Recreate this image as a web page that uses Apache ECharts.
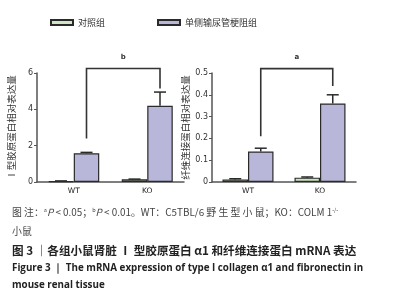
<!DOCTYPE html>
<html>
<head>
<meta charset="utf-8">
<script src="https://cdn.jsdelivr.net/npm/echarts@6/dist/echarts.min.js"></script>
<style>
html, body { margin: 0; padding: 0; background: #fff; }
#main { width: 403px; height: 300px; }
</style>
</head>
<body>
<div id="main"></div>
<script>
// 数据
var categories = ['WT', 'KO'];
var seriesNames = ['对照组', '单侧输尿管梗阻组'];

// Ⅰ型胶原蛋白 α1
var colControl = [0.05, 0.15];
var colControlErr = [0.01, 0.01];
var colUUO = [1.58, 4.2];
var colUUOErr = [0.05, 0.75];
var colTicks = [0, 2, 4, 6];
var colBracketTop = 6.25;
var colBracketEnds = [2.4, 5.15];
var colMark = 'b';

// 纤维连接蛋白
var fnControl = [0.012, 0.02];
var fnControlErr = [0.003, 0.003];
var fnUUO = [0.14, 0.36];
var fnUUOErr = [0.015, 0.04];
var fnTicks = [0, 0.1, 0.2, 0.3, 0.4, 0.5];
var fnBracketTop = 0.52;
var fnBracketEnds = [0.21, 0.44];
var fnMark = 'a';

var chart = echarts.init(document.getElementById('main'));

var BAR_W = 25.5;
var GREEN = '#cde6c3';
var PURPLE = '#b9b7d9';
var DARK = '#2a2a2a';
var AXIS = '#555';
var CJK = '"Noto Sans CJK SC", "Noto Sans", sans-serif';

function xAxisOf(idx) {
    return {
        type: 'category', gridIndex: idx, data: categories,
        axisLine: { lineStyle: { color: AXIS, width: 1.5 } },
        axisTick: { alignWithLabel: true, length: 3, lineStyle: { color: AXIS } },
        axisLabel: { color: '#222', fontSize: 7.5, margin: 5, fontFamily: 'DejaVu Sans' }
    };
}
function yAxisOf(idx, ticks, name, gap) {
    return {
        type: 'value', gridIndex: idx, min: 0, max: ticks[ticks.length - 1],
        interval: ticks[1] - ticks[0],
        name: name, nameLocation: 'middle', nameGap: gap, nameRotate: 90,
        nameTextStyle: { color: '#333', fontSize: 9.5, fontFamily: CJK },
        axisLine: { show: true, lineStyle: { color: AXIS, width: 1.5 } },
        axisTick: { show: true, length: 3, lineStyle: { color: AXIS } },
        axisLabel: { color: '#333', fontSize: 8, margin: 4, fontFamily: 'DejaVu Sans' },
        splitLine: { show: false }
    };
}
function barOf(idx, nameIdx, data, color) {
    return {
        name: seriesNames[nameIdx], type: 'bar', xAxisIndex: idx, yAxisIndex: idx,
        barWidth: BAR_W, barGap: '0%', data: data,
        itemStyle: { color: color, borderColor: DARK, borderWidth: 1.2 },
        emphasis: { disabled: true }
    };
}
// 误差线
function errOf(idx, vals, errs, side) {
    return {
        type: 'custom', xAxisIndex: idx, yAxisIndex: idx, silent: true, z: 5,
        data: vals.map(function (v, i) { return [i, v, errs[i]]; }),
        renderItem: function (params, api) {
            var lo = api.coord([api.value(0), api.value(1)]);
            var hi = api.coord([api.value(0), api.value(1) + api.value(2)]);
            var x = lo[0] + side * BAR_W / 2;
            return {
                type: 'group', children: [
                    { type: 'line', shape: { x1: x, y1: lo[1], x2: x, y2: hi[1] }, style: { stroke: DARK, lineWidth: 1.5 } },
                    { type: 'line', shape: { x1: x - 6, y1: hi[1], x2: x + 6, y2: hi[1] }, style: { stroke: DARK, lineWidth: 1.5 } }
                ]
            };
        }
    };
}
// 显著性括号
function bracketOf(idx, top, ends, mark) {
    return {
        type: 'custom', xAxisIndex: idx, yAxisIndex: idx, silent: true, z: 6, clip: false,
        data: [[0, top]],
        renderItem: function (params, api) {
            var a = api.coord([0, ends[0]]);
            var b = api.coord([1, ends[1]]);
            var t = api.coord([0, top])[1];
            var xa = a[0] + BAR_W / 2, xb = b[0] + BAR_W / 2;
            return {
                type: 'group', children: [
                    { type: 'polyline', shape: { points: [[xa, a[1]], [xa, t], [xb, t], [xb, b[1]]] },
                      style: { stroke: '#333', lineWidth: 1.6, fill: null } },
                    { type: 'text', x: (xa + xb) / 2, y: t - 11,
                      style: { text: mark, fill: '#333', font: 'bold 7px "DejaVu Sans"', align: 'center', verticalAlign: 'middle' } }
                ]
            };
        }
    };
}

chart.setOption({
    animation: false,
    legend: {
        data: seriesNames, left: 45, top: 13, icon: 'rect',
        itemWidth: 22, itemHeight: 5, itemGap: 52,
        textStyle: { color: '#333', fontSize: 9, fontFamily: CJK }
    },
    grid: [
        { left: 37, top: 73, width: 147, height: 109 },
        { left: 212, top: 73, width: 144, height: 109 }
    ],
    xAxis: [xAxisOf(0), xAxisOf(1)],
    yAxis: [
        yAxisOf(0, colTicks, 'Ⅰ型胶原蛋白相对表达量', 21),
        yAxisOf(1, fnTicks, '纤维连接蛋白相对表达量', 22)
    ],
    series: [
        barOf(0, 0, colControl, GREEN),
        barOf(0, 1, colUUO, PURPLE),
        barOf(1, 0, fnControl, GREEN),
        barOf(1, 1, fnUUO, PURPLE),
        errOf(0, colControl, colControlErr, -1),
        errOf(0, colUUO, colUUOErr, 1),
        errOf(1, fnControl, fnControlErr, -1),
        errOf(1, fnUUO, fnUUOErr, 1),
        bracketOf(0, colBracketTop, colBracketEnds, colMark),
        bracketOf(1, fnBracketTop, fnBracketEnds, fnMark)
    ],
    graphic: [
        {
            type: 'text', left: 12, top: 207,
            style: {
                text: '图 注：{s|a}{i|P} < 0.05；{s|b}{i|P} < 0.01。WT：C5TBL/6 野 生 型 小 鼠；KO：COLM 1{s|-/-}',
                fill: '#444', font: '9.9px ' + CJK,
                rich: {
                    s: { fontSize: 5.5, verticalAlign: 'top', fill: '#444', fontFamily: CJK },
                    i: { fontStyle: 'italic', fontSize: 9.9, fill: '#444', fontFamily: CJK }
                }
            }
        },
        { type: 'text', left: 12, top: 226, style: { text: '小鼠', fill: '#444', font: '9.9px ' + CJK } },
        { type: 'text', left: 12, top: 245, style: { text: '图 3 ｜各组小鼠肾脏 Ⅰ 型胶原蛋白 α1 和纤维连接蛋白 mRNA 表达', fill: '#222', font: 'bold 11.6px ' + CJK } },
        { type: 'text', left: 12, top: 263, style: { text: 'Figure 3 ｜ The mRNA expression of type I collagen α1 and fibronectin in', fill: '#222', font: 'bold 9.8px "Open Sans"' } },
        { type: 'text', left: 12, top: 280, style: { text: 'mouse renal tissue', fill: '#222', font: 'bold 9.8px "Open Sans"' } }
    ]
});
</script>
</body>
</html>
